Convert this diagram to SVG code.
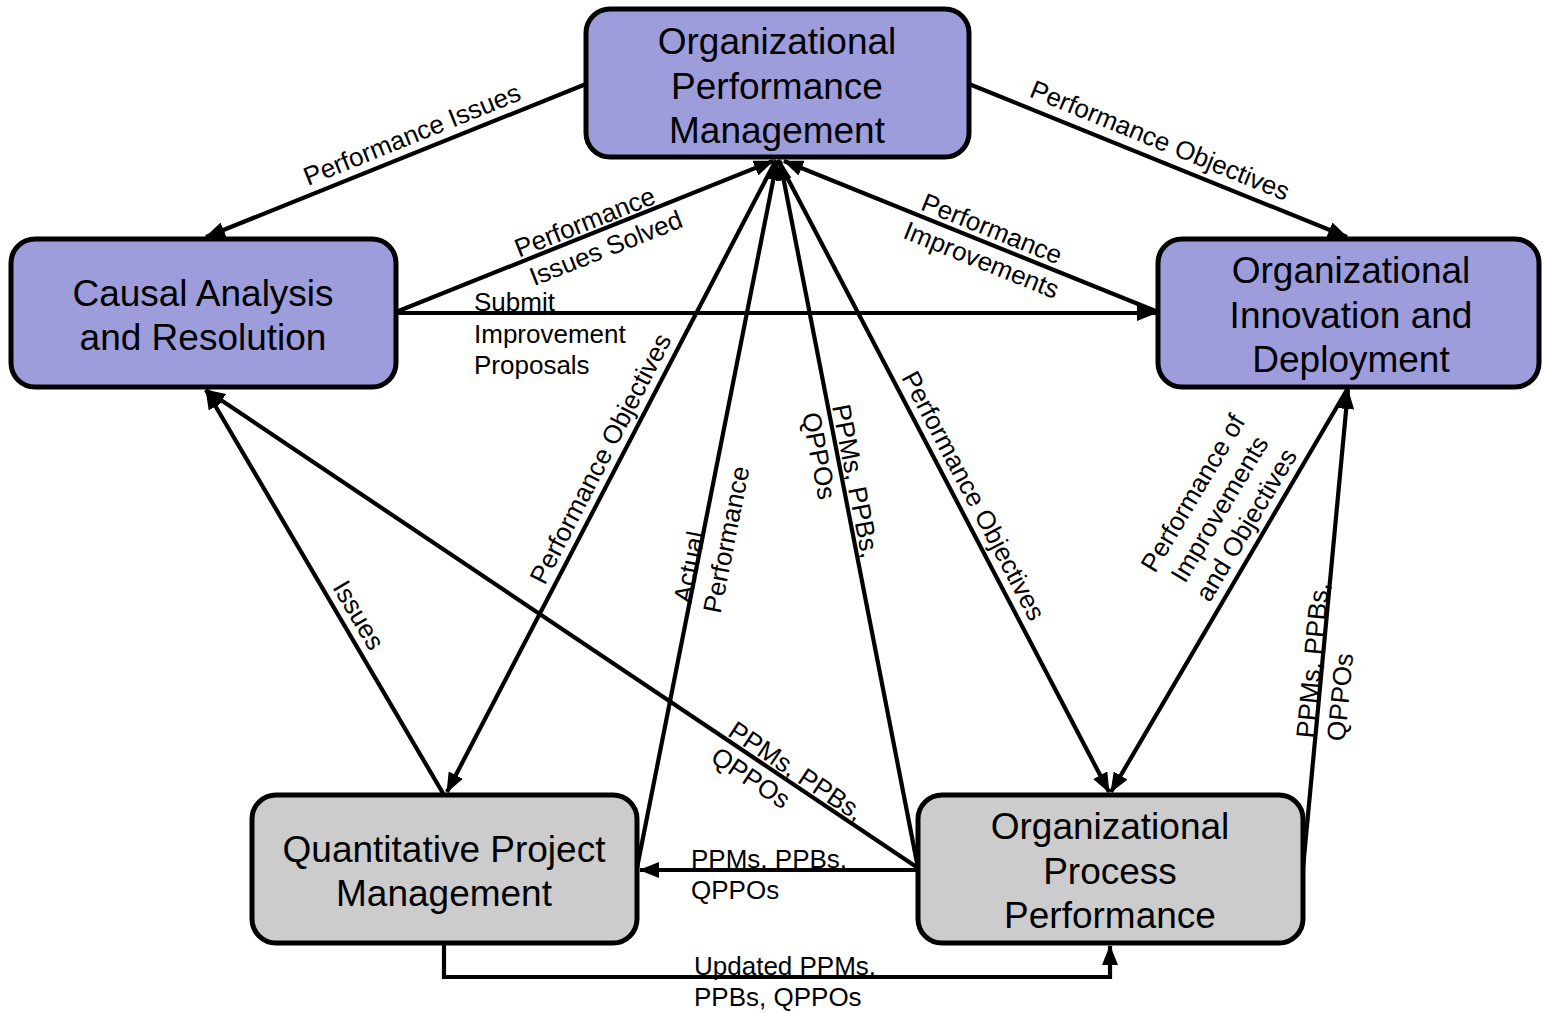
<svg xmlns="http://www.w3.org/2000/svg" width="1543" height="1013" viewBox="0 0 1543 1013">
<style>
.box{stroke:#000;stroke-width:5}
.p{fill:#9e9ddc}
.g{fill:#cccccc}
.nt{font-family:"Liberation Sans",Arial,sans-serif;font-size:37px;fill:#000;text-anchor:middle}
.c{fill:none;stroke:#000;stroke-width:4.2}
.a{marker-end:url(#ah)}
.lb{font-family:"Liberation Sans",Arial,sans-serif;font-size:26px;fill:#000}
.m{text-anchor:middle}
</style>
<defs>
<marker id="ah" viewBox="0 0 20 16" refX="19" refY="8" markerWidth="20" markerHeight="16" markerUnits="userSpaceOnUse" orient="auto">
<path d="M0,0 L20,8 L0,16 z" fill="#000"/>
</marker>
</defs>
<rect width="1543" height="1013" fill="#fff"/>
<g id="connectors">
<path class="c a" d="M586,84 L206,237"/>
<path class="c a" d="M969,84 L1347,237"/>
<path class="c a" d="M396,312 L773,161"/>
<path class="c a" d="M396,313 L1156,313"/>
<path class="c a" d="M1158,312 L784,161"/>
<path class="c a" d="M776,160 L447,792"/>
<path class="c a" d="M637,868 L777,161"/>
<path class="c a" d="M918,868 L780,161"/>
<path class="c a" d="M778,160 L1109,792"/>
<path class="c a" d="M444,795 L206,390"/>
<path class="c a" d="M918,868 L206,390"/>
<path class="c a" d="M918,870 L640,870"/>
<path class="c a" d="M444,944 L444,977 L1110,977 L1110,946"/>
<path class="c a" d="M1348,388 L1111,792"/>
<path class="c a" d="M1303,868 L1348,390"/>
<text class="lb m" transform="translate(414,153) rotate(-22)" x="5" y="-9">Performance Issues</text>
<text class="lb m" transform="translate(1158,161) rotate(22.2)" x="-6" y="-11">Performance Objectives</text>
<g class="lb m" transform="translate(590,235) rotate(-21.7)">
<text x="0" y="-5">Performance</text>
<text x="10" y="27">Issues Solved</text>
</g>
<g class="lb m" transform="translate(990,244) rotate(21.9)">
<text x="-4" y="-6">Performance</text>
<text x="-2" y="27">Improvements</text>
</g>
<g class="lb">
<text x="474" y="311">Submit</text>
<text x="474" y="343">Improvement</text>
<text x="474" y="374">Proposals</text>
</g>
<text class="lb m" transform="translate(621,458) rotate(-62.7)" x="-10" y="-9">Performance Objectives</text>
<g class="lb" transform="translate(690,604) rotate(-78.8)">
<text x="0" y="1">Actual</text>
<text x="-4" y="32">Performance</text>
</g>
<g class="lb" transform="translate(828,407) rotate(78.9)">
<text x="0" y="-4">PPMs, PPBs,</text>
<text x="2" y="27">QPPOs</text>
</g>
<text class="lb m" transform="translate(954,497) rotate(62.2)" x="8" y="-9">Performance Objectives</text>
<text class="lb m" transform="translate(339,615) rotate(59.5)" x="10" y="-8">Issues</text>
<g class="lb" transform="translate(800,789) rotate(33.8)">
<text x="-91" y="-4">PPMs, PPBs,</text>
<text x="-91" y="27">QPPOs</text>
</g>
<g class="lb m" transform="translate(1268,525) rotate(-59.2)">
<text x="-11" y="-72">Performance of</text>
<text x="-11" y="-41">Improvements</text>
<text x="-11" y="-10">and Objectives</text>
</g>
<g class="lb" transform="translate(1316,739) rotate(-84.6)">
<text x="0" y="-2">PPMs, PPBs,</text>
<text x="0" y="29">QPPOs</text>
</g>
<g class="lb">
<text x="691" y="868">PPMs, PPBs,</text>
<text x="691" y="899">QPPOs</text>
<text x="694" y="975">Updated PPMs,</text>
<text x="694" y="1006">PPBs, QPPOs</text>
</g>
</g>
<g id="opm">
<rect class="box p" x="586" y="9" width="383" height="148" rx="24"/>
<text class="nt" x="777" y="54">Organizational</text>
<text class="nt" x="777" y="99">Performance</text>
<text class="nt" x="777" y="143">Management</text>
</g>
<g id="car">
<rect class="box p" x="11" y="239" width="385" height="148" rx="24"/>
<text class="nt" x="203" y="306">Causal Analysis</text>
<text class="nt" x="203" y="350">and Resolution</text>
</g>
<g id="oid">
<rect class="box p" x="1158" y="239" width="381" height="148" rx="24"/>
<text class="nt" x="1351" y="283">Organizational</text>
<text class="nt" x="1351" y="328">Innovation and</text>
<text class="nt" x="1351" y="372">Deployment</text>
</g>
<g id="qpm">
<rect class="box g" x="252" y="795" width="385" height="148" rx="24"/>
<text class="nt" x="444" y="862">Quantitative Project</text>
<text class="nt" x="444" y="906">Management</text>
</g>
<g id="opp">
<rect class="box g" x="918" y="795" width="385" height="148" rx="24"/>
<text class="nt" x="1110" y="839">Organizational</text>
<text class="nt" x="1110" y="884">Process</text>
<text class="nt" x="1110" y="928">Performance</text>
</g>
</svg>
